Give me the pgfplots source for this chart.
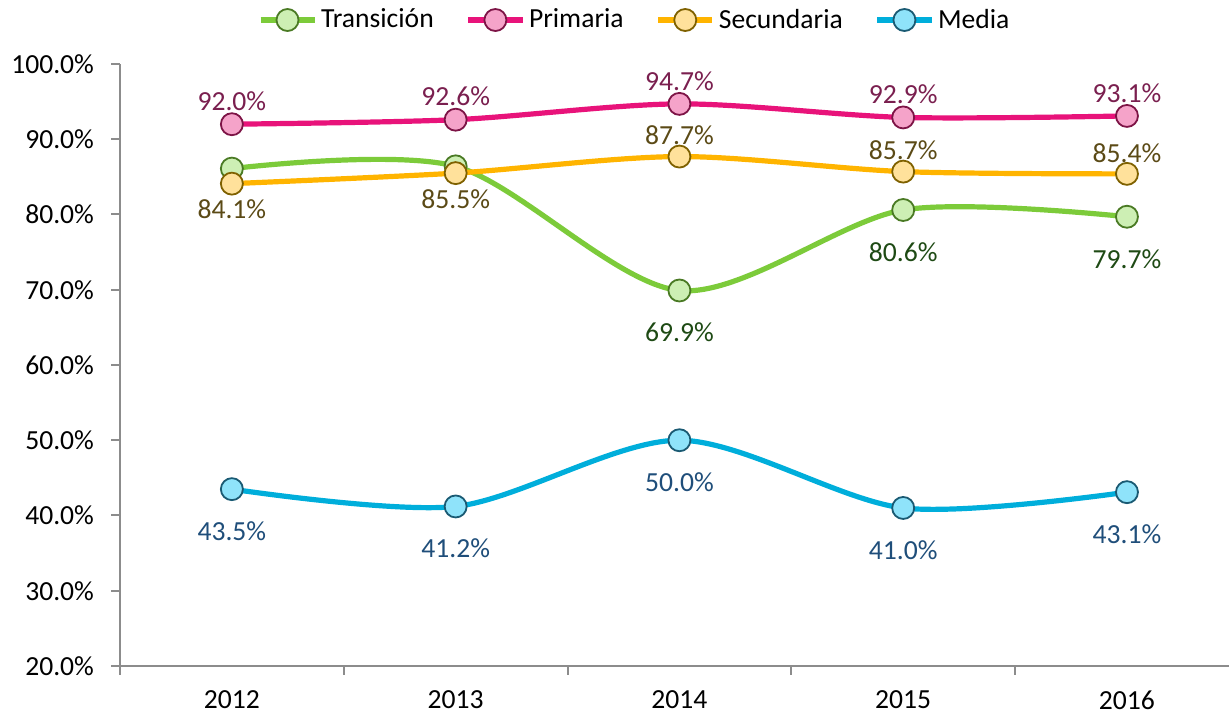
\documentclass[border=0pt]{standalone}
\usepackage{pgfplots}
\pgfplotsset{compat=1.18}
\usepackage{fontspec}
\setmainfont{Carlito}
\definecolor{axisgray}{HTML}{8C8C8C}
\definecolor{trL}{HTML}{7CCB3A}\definecolor{trF}{HTML}{CDEFB4}\definecolor{trB}{HTML}{4A7A24}\definecolor{trT}{HTML}{1E4A14}
\definecolor{prL}{HTML}{E8137A}\definecolor{prF}{HTML}{F5A3C9}\definecolor{prB}{HTML}{7D1446}\definecolor{prT}{HTML}{7A1F4F}
\definecolor{seL}{HTML}{FFB400}\definecolor{seF}{HTML}{FFE19B}\definecolor{seB}{HTML}{7F6100}\definecolor{seT}{HTML}{5B4A16}
\definecolor{meL}{HTML}{00AEDB}\definecolor{meF}{HTML}{8FE3FA}\definecolor{meB}{HTML}{1A5A73}\definecolor{meT}{HTML}{1F4E7A}
\newcommand{\lblfont}{\fontsize{13.8}{16}\selectfont}
\pgfplotsset{
  lbl/.style 2 args={draw=none, mark=none, forget plot, nodes near coords,
    nodes near coords={\pgfmathprintnumber[fixed,fixed zerofill,precision=1]{\pgfplotspointmeta}\%},
    every node near coord/.append style={font=\lblfont, text=#1, anchor=center, yshift=#2}},
}
\begin{document}
\begin{tikzpicture}
\begin{axis}[name=ax,
  scale only axis, width=554.5pt, height=301pt,
  xmin=2011.5, xmax=2016.456, ymin=20, ymax=100,
  clip=false,
  axis x line*=bottom, axis y line*=left,
  axis line style={draw=axisgray, line width=1pt},
  /pgf/number format/assume math mode=true,
  xtick={2012,2013,2014,2015,2016},
  xticklabels={2012,2013,2014,2015,2016},
  minor xtick={2011.5,2012.5,2013.5,2014.5,2015.5},
  major x tick style={draw=none},
  ytick={20,30,...,100},
  yticklabel={\pgfmathprintnumber[fixed,fixed zerofill,precision=1]{\tick}\%},
  tick align=outside, major tick length=4.5pt, minor tick length=4.5pt,
  tick style={draw=axisgray, line width=1pt},
  every tick label/.append style={font=\lblfont, text=black},
  xticklabel style={yshift=-4.5pt},
  yticklabel style={xshift=-5pt},
  legend style={at={(0.465,1)}, anchor=center, yshift=22pt, draw=none, fill=none,
    font=\lblfont, legend columns=-1,
    /tikz/every even column/.append style={column sep=14pt}},
  legend image code/.code={\draw[mark repeat=2,mark phase=2,#1] plot coordinates {(0pt,0pt) (13.5pt,0pt) (27pt,0pt)};},
  every axis plot/.append style={line width=2.6pt, smooth},
  mark size=5.5pt,
]
\addplot[trL, mark=*, mark options={fill=trF, draw=trB, line width=0.9pt}] coordinates {(2012,86.1)(2013,86.4)(2014,69.9)(2015,80.6)(2016,79.7)};
\addlegendentry{Transición}
\addplot[prL, mark=*, mark options={fill=prF, draw=prB, line width=0.9pt}] coordinates {(2012,92.0)(2013,92.6)(2014,94.7)(2015,92.9)(2016,93.1)};
\addlegendentry{Primaria}
\addplot[seL, mark=*, mark options={fill=seF, draw=seB, line width=0.9pt}] coordinates {(2012,84.1)(2013,85.5)(2014,87.7)(2015,85.7)(2016,85.4)};
\addlegendentry{Secundaria}
\addplot[meL, mark=*, mark options={fill=meF, draw=meB, line width=0.9pt}] coordinates {(2012,43.5)(2013,41.2)(2014,50.0)(2015,41.0)(2016,43.1)};
\addlegendentry{Media}
% data labels
\addplot[lbl={trT}{-21pt}] coordinates {(2014,69.9)(2015,80.6)(2016,79.7)};
\addplot[lbl={prT}{11.5pt}] coordinates {(2012,92.0)(2013,92.6)(2014,94.7)(2015,92.9)(2016,93.1)};
\addplot[lbl={seT}{-13pt}] coordinates {(2012,84.1)(2013,85.5)};
\addplot[lbl={seT}{10.5pt}] coordinates {(2014,87.7)(2015,85.7)(2016,85.4)};
\addplot[lbl={meT}{-21pt}] coordinates {(2012,43.5)(2013,41.2)(2014,50.0)(2015,41.0)(2016,43.1)};
\end{axis}
\pgfresetboundingbox
\path[use as bounding box] ([xshift=-60pt,yshift=-24pt]ax.south west) rectangle ([yshift=32pt]ax.north east);
\end{tikzpicture}
\end{document}
